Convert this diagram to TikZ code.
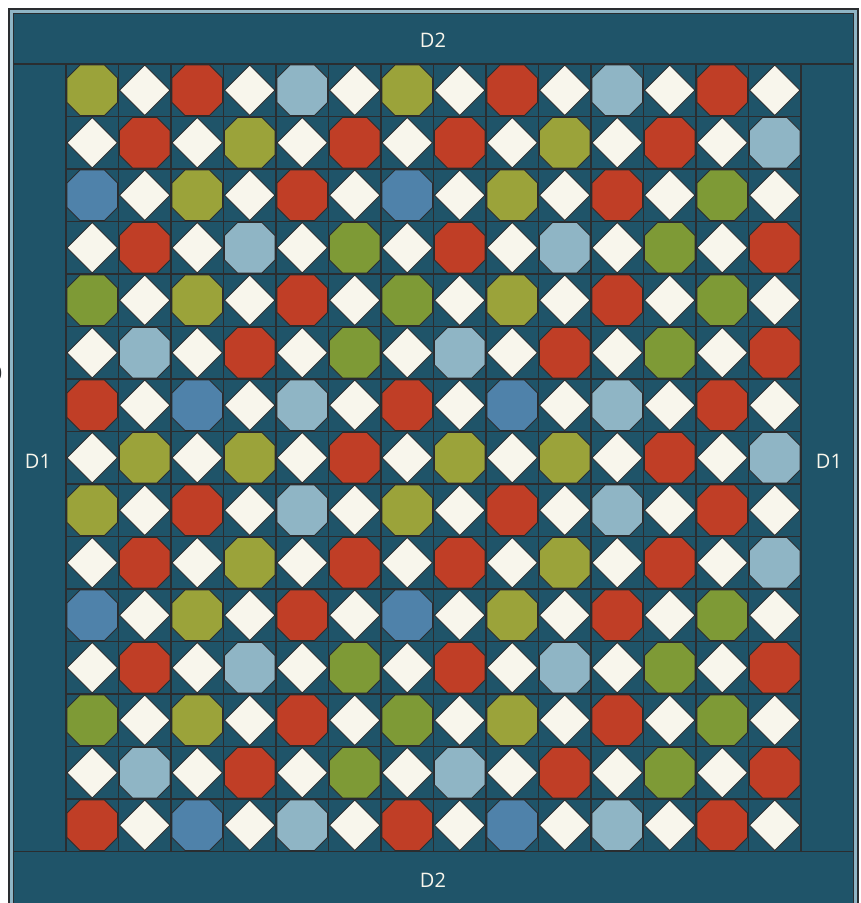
\documentclass[tikz,border=0pt]{standalone}
\usepackage{fontspec}
\setmainfont{Open Sans}
\definecolor{teal}{HTML}{1F5469}
\definecolor{frameblue}{HTML}{8FB5C5}
\definecolor{edge}{HTML}{2A2D30}
\definecolor{cream}{HTML}{F8F6EC}
\definecolor{cO}{HTML}{9BA33A}
\definecolor{cR}{HTML}{C03E26}
\definecolor{cL}{HTML}{8FB5C5}
\definecolor{cS}{HTML}{4F82AA}
\definecolor{cG}{HTML}{7E9A36}
\tikzset{
  gridline/.style={draw=edge, line width=1.3pt},
  octo/.style={draw=edge, line width=0.8pt},
  diam/.style={draw=edge, line width=0.8pt, fill=cream},
  lbl/.style={text=cream, font=\fontsize{20}{24}\selectfont},
}
\begin{document}
\begin{tikzpicture}[x=1pt,y=-1pt]
\useasboundingbox (0,0) rectangle (861,903);
\fill[white] (0,0) rectangle (861,903);
% frame
\draw[edge, line width=1.2pt, fill=frameblue] (9,9) rectangle (858,920);
\draw[edge, line width=1.2pt, fill=teal] (13.5,13.5) rectangle (853.5,920);
% cells
\def\s{52.5}
\foreach \r/\lst in {0/{O,R,L,O,R,L,R},1/{R,O,R,R,O,R,L},2/{S,O,R,S,O,R,G},3/{R,L,G,R,L,G,R},
  4/{G,O,R,G,O,R,G},5/{L,R,G,L,R,G,R},6/{R,S,L,R,S,L,R},7/{O,O,R,O,O,R,L},
  8/{O,R,L,O,R,L,R},9/{R,O,R,R,O,R,L},10/{S,O,R,S,O,R,G},11/{R,L,G,R,L,G,R},
  12/{G,O,R,G,O,R,G},13/{L,R,G,L,R,G,R},14/{R,S,L,R,S,L,R}}{
  \pgfmathtruncatemacro{\odd}{mod(\r,2)}
  \foreach \cc [count=\k from 0] in \lst {
    \pgfmathtruncatemacro{\oc}{2*\k+\odd}
    \pgfmathtruncatemacro{\dc}{2*\k+1-\odd}
    \begin{scope}[shift={(66+\oc*\s,64+\r*\s)}]
      \draw[octo, fill=c\cc] (14,1) -- (38.5,1) -- (51.5,14) -- (51.5,38.5) -- (38.5,51.5) -- (14,51.5) -- (1,38.5) -- (1,14) -- cycle;
    \end{scope}
    \begin{scope}[shift={(66+\dc*\s,64+\r*\s)}]
      \draw[diam] (26.25,1) -- (51.5,26.25) -- (26.25,51.5) -- (1,26.25) -- cycle;
    \end{scope}
  }
}
% grid lines
\foreach \i in {0,...,14} {
  \draw[gridline] (66+\i*\s,64) -- (66+\i*\s,851.5);
}
\foreach \j in {1,...,14} {
  \draw[gridline] (66,64+\j*\s) -- (801,64+\j*\s);
}
% border lines
\draw[gridline] (13.5,64) -- (853.5,64);
\draw[gridline] (13.5,851.5) -- (853.5,851.5);
% labels
\node[lbl] (top) at (433,40) {D2};
\node[lbl] (bottom) at (433,880) {D2};
\node[lbl] (left) at (38,461) {D1};
\node[lbl] (right) at (829,461) {D1};
\node[text=edge, font=\fontsize{20}{24}\selectfont, anchor=east, inner sep=0pt] (cut) at (2.5,373) {0};
\end{tikzpicture}
\end{document}
